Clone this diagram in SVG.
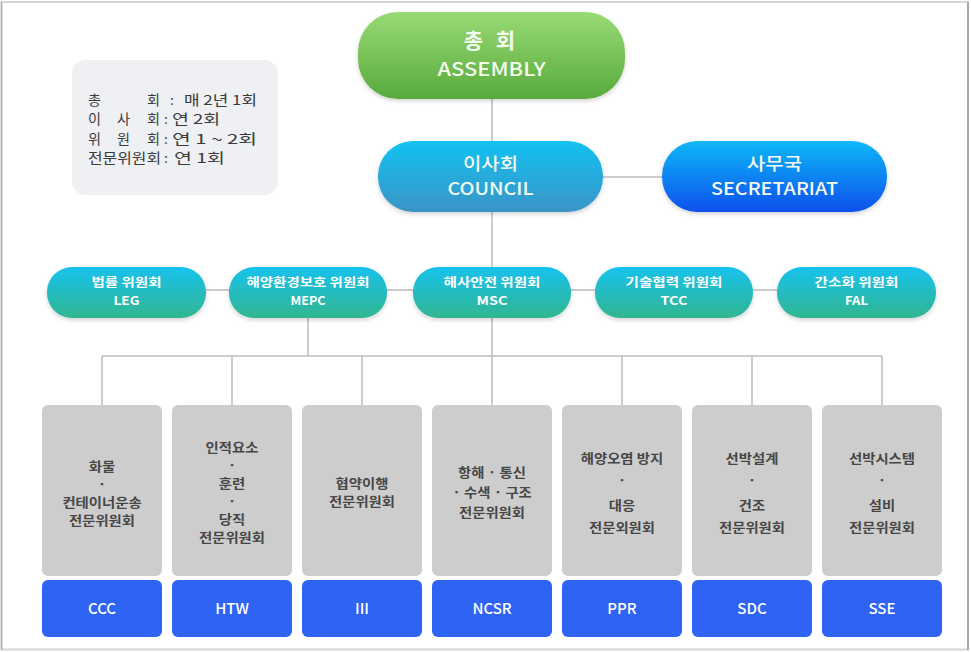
<svg xmlns="http://www.w3.org/2000/svg" width="971" height="652" viewBox="0 0 971 652">
<defs>
<linearGradient id="gGreen" x1="0" y1="0" x2="0" y2="1"><stop offset="0" stop-color="#98da74"/><stop offset="1" stop-color="#58aa3c"/></linearGradient>
<linearGradient id="gCouncil" x1="0" y1="0" x2="0" y2="1"><stop offset="0" stop-color="#12c2f2"/><stop offset="1" stop-color="#3b94c6"/></linearGradient>
<linearGradient id="gSec" x1="0" y1="0" x2="0" y2="1"><stop offset="0" stop-color="#12b8f8"/><stop offset="1" stop-color="#0750ec"/></linearGradient>
<linearGradient id="gTeal" x1="0" y1="0" x2="0" y2="1"><stop offset="0" stop-color="#18c2ee"/><stop offset="1" stop-color="#31b690"/></linearGradient>
<filter id="sh" x="-10%" y="-20%" width="120%" height="150%"><feDropShadow dx="0" dy="2" stdDeviation="2" flood-color="#000" flood-opacity="0.18"/></filter>
</defs>
<style>
.kr{font-family:"Noto Sans CJK KR","Noto Sans",sans-serif}
.conn line{stroke:#bdbdbd;stroke-width:1.5}
.pillT{fill:#fff;font-weight:700;font-size:12px;text-anchor:middle}
.bigT{fill:#f4fbf0;text-anchor:middle}
.grayBox{fill:#cdcdcd}
.blueBox{fill:#2f63f3}
.gT{fill:#464646;font-weight:700;font-size:12.6px;text-anchor:middle}
.bT{fill:#fff;font-size:15px;font-weight:500;text-anchor:middle}
.lg{fill:#3a3a3a;font-size:13.5px}
</style>
<rect x="0" y="0" width="971" height="652" fill="#fff"/>
<rect x="1.5" y="2" width="966.5" height="647.5" fill="none" stroke="#d6d6d6" stroke-width="2"/>
<line x1="968" y1="2" x2="968" y2="650" stroke="#999" stroke-width="1.5"/>
<line x1="1.5" y1="2" x2="1.5" y2="650" stroke="#aaa" stroke-width="1.2"/>

<g class="conn" id="connectors">
<line x1="492" y1="98" x2="492" y2="405"/>
<line x1="603" y1="177" x2="662" y2="177"/>
<line x1="206" y1="290" x2="777" y2="290"/>
<line x1="308" y1="318" x2="308" y2="356"/>
<line x1="102" y1="356" x2="882" y2="356"/>
<line x1="102" y1="356" x2="102" y2="405"/>
<line x1="232" y1="356" x2="232" y2="405"/>
<line x1="362" y1="356" x2="362" y2="405"/>
<line x1="622" y1="356" x2="622" y2="405"/>
<line x1="752" y1="356" x2="752" y2="405"/>
<line x1="882" y1="356" x2="882" y2="405"/>
</g>

<g id="legend" class="kr">
<rect x="72" y="60" width="206" height="135" rx="14" fill="#eef0f3"/>
<text class="lg" y="104.5"><tspan x="88" textLength="13" lengthAdjust="spacingAndGlyphs">총</tspan><tspan x="147" textLength="13" lengthAdjust="spacingAndGlyphs">회</tspan><tspan x="170">:</tspan><tspan x="184" textLength="73" lengthAdjust="spacingAndGlyphs">매 2년 1회</tspan></text>
<text class="lg" y="124"><tspan x="88" textLength="13" lengthAdjust="spacingAndGlyphs">이</tspan><tspan x="117" textLength="13" lengthAdjust="spacingAndGlyphs">사</tspan><tspan x="147" textLength="13" lengthAdjust="spacingAndGlyphs">회</tspan><tspan x="164">:</tspan><tspan x="172" textLength="48" lengthAdjust="spacingAndGlyphs">연 2회</tspan></text>
<text class="lg" y="143.5"><tspan x="88" textLength="13" lengthAdjust="spacingAndGlyphs">위</tspan><tspan x="117" textLength="13" lengthAdjust="spacingAndGlyphs">원</tspan><tspan x="147" textLength="13" lengthAdjust="spacingAndGlyphs">회</tspan><tspan x="164">:</tspan><tspan x="172" textLength="85" lengthAdjust="spacingAndGlyphs">연 1 ~ 2회</tspan></text>
<text class="lg" y="163"><tspan x="88" textLength="73" lengthAdjust="spacingAndGlyphs">전문위원회</tspan><tspan x="164">:</tspan><tspan x="174" textLength="51" lengthAdjust="spacingAndGlyphs">연 1회</tspan></text>
</g>

<g id="assembly" class="kr">
<rect x="358" y="12" width="267" height="87" rx="40" fill="url(#gGreen)" filter="url(#sh)"/>
<text class="bigT" x="491.5" y="48" font-size="21" font-weight="700" letter-spacing="4">총 회</text>
<text class="bigT" x="491.5" y="76" font-size="19" font-weight="500" textLength="108" lengthAdjust="spacingAndGlyphs">ASSEMBLY</text>
</g>

<g id="council" class="kr">
<rect x="378" y="141" width="225" height="71" rx="35" fill="url(#gCouncil)" filter="url(#sh)"/>
<text class="bigT" x="490.5" y="169.5" font-size="17.5" font-weight="500" textLength="55" lengthAdjust="spacingAndGlyphs">이사회</text>
<text class="bigT" x="490.5" y="195" font-size="17.5" font-weight="500" textLength="86" lengthAdjust="spacingAndGlyphs">COUNCIL</text>
</g>

<g id="secretariat" class="kr">
<rect x="662" y="141" width="225" height="71" rx="35" fill="url(#gSec)" filter="url(#sh)"/>
<text class="bigT" x="774.5" y="169.5" font-size="17.5" font-weight="500" textLength="55" lengthAdjust="spacingAndGlyphs">사무국</text>
<text class="bigT" x="774.5" y="195" font-size="17.5" font-weight="500" textLength="127" lengthAdjust="spacingAndGlyphs">SECRETARIAT</text>
</g>

<g id="leg" class="kr">
<rect x="47" y="267" width="159" height="51" rx="25" fill="url(#gTeal)" filter="url(#sh)"/>
<text class="pillT" x="126.5" y="287" textLength="70" lengthAdjust="spacingAndGlyphs">법률 위원회</text>
<text class="pillT" x="126.5" y="305" textLength="26" lengthAdjust="spacingAndGlyphs">LEG</text>
</g>
<g id="mepc" class="kr">
<rect x="229" y="267" width="158" height="51" rx="25" fill="url(#gTeal)" filter="url(#sh)"/>
<text class="pillT" x="308" y="287" textLength="123" lengthAdjust="spacingAndGlyphs">해양환경보호 위원회</text>
<text class="pillT" x="308" y="305" textLength="35" lengthAdjust="spacingAndGlyphs">MEPC</text>
</g>
<g id="msc" class="kr">
<rect x="413" y="267" width="158" height="51" rx="25" fill="url(#gTeal)" filter="url(#sh)"/>
<text class="pillT" x="492" y="287" textLength="97" lengthAdjust="spacingAndGlyphs">해사안전 위원회</text>
<text class="pillT" x="492" y="305" textLength="31" lengthAdjust="spacingAndGlyphs">MSC</text>
</g>
<g id="tcc" class="kr">
<rect x="595" y="267" width="158" height="51" rx="25" fill="url(#gTeal)" filter="url(#sh)"/>
<text class="pillT" x="674" y="287" textLength="97" lengthAdjust="spacingAndGlyphs">기술협력 위원회</text>
<text class="pillT" x="674" y="305" textLength="27" lengthAdjust="spacingAndGlyphs">TCC</text>
</g>
<g id="fal" class="kr">
<rect x="777" y="267" width="159" height="51" rx="25" fill="url(#gTeal)" filter="url(#sh)"/>
<text class="pillT" x="856.5" y="287" textLength="84" lengthAdjust="spacingAndGlyphs">간소화 위원회</text>
<text class="pillT" x="856.5" y="305" textLength="23" lengthAdjust="spacingAndGlyphs">FAL</text>
</g>

<g id="ccc" class="kr">
<rect class="grayBox" x="42" y="405" width="120" height="171" rx="6"/>
<rect class="blueBox" x="42" y="580" width="120" height="57" rx="6"/>
<g transform="translate(102 0) scale(1.14 1)">
<text class="gT" x="0" y="471">화물</text>
<text class="gT" x="0" y="489">·</text>
<text class="gT" x="0" y="507">컨테이너운송</text>
<text class="gT" x="0" y="525">전문위원회</text>
</g>
<text class="bT" x="102" y="614">CCC</text>
</g>
<g id="htw" class="kr">
<rect class="grayBox" x="172" y="405" width="120" height="171" rx="6"/>
<rect class="blueBox" x="172" y="580" width="120" height="57" rx="6"/>
<g transform="translate(232 0) scale(1.14 1)">
<text class="gT" x="0" y="452.5">인적요소</text>
<text class="gT" x="0" y="470.5">·</text>
<text class="gT" x="0" y="488.5">훈련</text>
<text class="gT" x="0" y="506.5">·</text>
<text class="gT" x="0" y="524.5">당직</text>
<text class="gT" x="0" y="542.5">전문위원회</text>
</g>
<text class="bT" x="232" y="614">HTW</text>
</g>
<g id="iii" class="kr">
<rect class="grayBox" x="302" y="405" width="120" height="171" rx="6"/>
<rect class="blueBox" x="302" y="580" width="120" height="57" rx="6"/>
<g transform="translate(362 0) scale(1.14 1)">
<text class="gT" x="0" y="488">협약이행</text>
<text class="gT" x="0" y="506">전문위원회</text>
</g>
<text class="bT" x="362" y="614">III</text>
</g>
<g id="ncsr" class="kr">
<rect class="grayBox" x="432" y="405" width="120" height="171" rx="6"/>
<rect class="blueBox" x="432" y="580" width="120" height="57" rx="6"/>
<g transform="translate(492 0) scale(1.14 1)">
<text class="gT" x="0" y="477">항해 · 통신</text>
<text class="gT" x="0" y="497">· 수색 · 구조</text>
<text class="gT" x="0" y="517">전문위원회</text>
</g>
<text class="bT" x="492" y="614">NCSR</text>
</g>
<g id="ppr" class="kr">
<rect class="grayBox" x="562" y="405" width="120" height="171" rx="6"/>
<rect class="blueBox" x="562" y="580" width="120" height="57" rx="6"/>
<g transform="translate(622 0) scale(1.14 1)">
<text class="gT" x="0" y="463">해양오염 방지</text>
<text class="gT" x="0" y="485">·</text>
<text class="gT" x="0" y="510">대응</text>
<text class="gT" x="0" y="532">전문외원회</text>
</g>
<text class="bT" x="622" y="614">PPR</text>
</g>
<g id="sdc" class="kr">
<rect class="grayBox" x="692" y="405" width="120" height="171" rx="6"/>
<rect class="blueBox" x="692" y="580" width="120" height="57" rx="6"/>
<g transform="translate(752 0) scale(1.14 1)">
<text class="gT" x="0" y="463">선박설계</text>
<text class="gT" x="0" y="485">·</text>
<text class="gT" x="0" y="510">건조</text>
<text class="gT" x="0" y="532">전문위원회</text>
</g>
<text class="bT" x="752" y="614">SDC</text>
</g>
<g id="sse" class="kr">
<rect class="grayBox" x="822" y="405" width="120" height="171" rx="6"/>
<rect class="blueBox" x="822" y="580" width="120" height="57" rx="6"/>
<g transform="translate(882 0) scale(1.14 1)">
<text class="gT" x="0" y="463">선박시스템</text>
<text class="gT" x="0" y="485">·</text>
<text class="gT" x="0" y="510">설비</text>
<text class="gT" x="0" y="532">전문위원회</text>
</g>
<text class="bT" x="882" y="614">SSE</text>
</g>
</svg>
